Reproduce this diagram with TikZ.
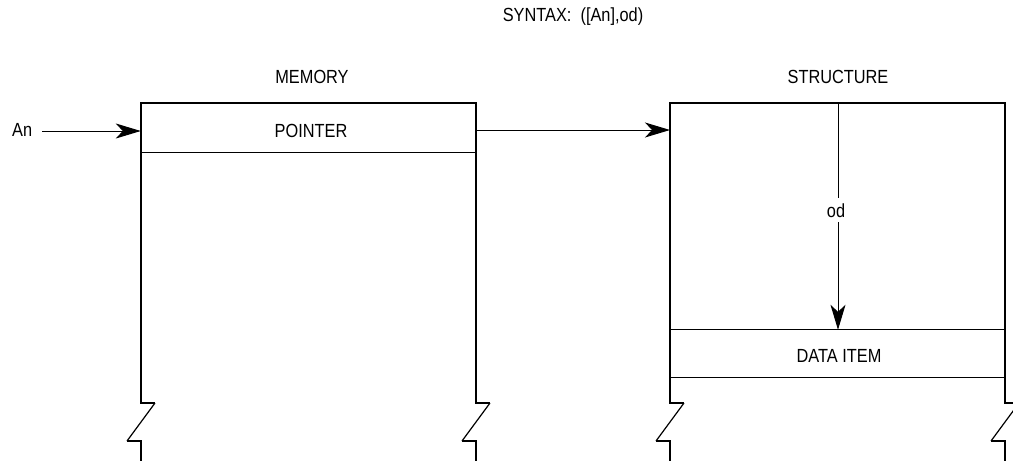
\documentclass[tikz,border=0pt]{standalone}
\usepackage{fontspec}
\setmainfont[FakeStretch=0.86]{Liberation Sans}
\usetikzlibrary{arrows.meta}
\begin{document}
\begin{tikzpicture}[x=1pt,y=-1pt,
  wall/.style={line width=2.2pt, line join=miter},
  divider/.style={line width=1.2pt},
  txt/.style={font=\fontsize{19}{22}\selectfont, inner sep=0pt, anchor=base},
  cell/.style={minimum width=335pt, minimum height=49pt, inner sep=0pt},
  arr/.style={line width=1pt, -{Stealth[length=25pt,width=15pt,inset=7pt]}}]
\useasboundingbox (0,0) rectangle (1013,461);

% titles
\node[txt] (syntax) at (573,21) {SYNTAX:\ \ ([An],od)};
\node[txt] (memlbl) at (312,83) {MEMORY};
\node[txt] (strlbl) at (838,83) {STRUCTURE};

% cells
\node[cell] (ptr) at (308.5,128) {};
\node[txt] (ptrtxt) at (311,137) {POINTER};
\node[cell, minimum height=47pt] (item) at (837.5,353.5) {};
\node[txt] (itemtxt) at (839,362) {DATA ITEM};
\draw[divider] (ptr.south west) -- (ptr.south east);
\draw[divider] (item.north west) -- (item.north east);
\draw[divider] (item.south west) -- (item.south east);

% walls with break marks
\coordinate (mtl) at (141,103);
\coordinate (mtr) at (476,103);
\coordinate (stl) at (670,103);
\coordinate (str) at (1005,103);
\draw[wall] (141,403) -- (mtl) -- (mtr) -- (476,403);
\draw[wall] (670,403) -- (stl) -- (str) -- (1005,403);
\foreach \x in {141,476,670,1005}{
  \draw[wall] (\x,400) -- (\x,403) -- (\x+14,403);
  \draw[line width=1.2pt] (\x+14,403) -- (\x-14,441);
  \draw[wall] (\x-14,441) -- (\x,441) -- (\x,461);
}

% arrows
\node[txt, anchor=base west] (an) at (12,136) {An};
\coordinate (stin) at (670,130);
\draw[arr] ([xshift=10pt]an.east |- 0,131) -- (ptr.west |- 0,131);
\draw[arr] (ptr.east |- 0,130) -- (stin);
\coordinate (odtop) at (838,103);
\draw[arr] (odtop) -- (odtop |- item.north);
\node[txt, fill=white, inner xsep=2pt, inner ysep=5pt] (od) at (836,217) {od};
\end{tikzpicture}
\end{document}
